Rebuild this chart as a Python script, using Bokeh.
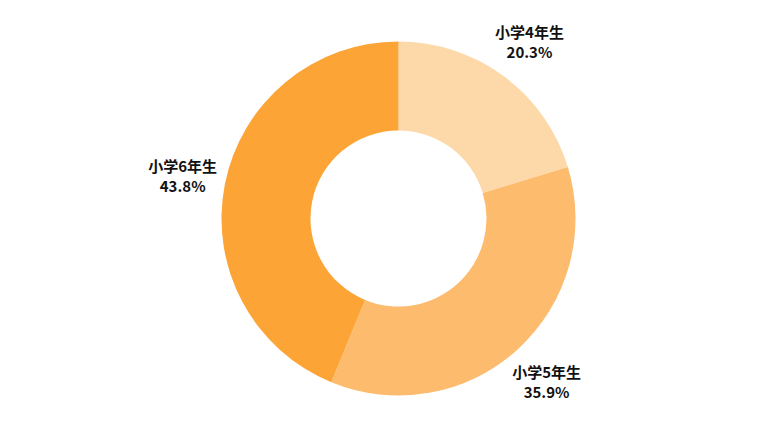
import numpy as np
from bokeh.plotting import figure
from bokeh.models import ColumnDataSource
from bokeh.core.properties import value
from bokeh.embed import file_html
from bokeh.resources import INLINE

categories = ["小学4年生", "小学5年生", "小学6年生"]
shares = [20.3, 35.9, 43.8]
colors = ["#FDD9A9", "#FDBB6E", "#FCA435"]

W, H = 764, 422
cx, cy = 398, 204
r_out, r_in, r_lab = 177, 88, 220

vals = np.array(shares)
frac = vals / vals.sum()
cum = np.concatenate([[0], np.cumsum(frac)])
start = np.pi / 2 - 2 * np.pi * cum[:-1]
end = np.pi / 2 - 2 * np.pi * cum[1:]
mid = (start + end) / 2

src = ColumnDataSource(dict(
    cat=categories,
    pct=[f"{v:.1f}%" for v in shares],
    start=start, end=end,
    color=colors,
    lx=cx + r_lab * np.cos(mid),
    ly=cy + r_lab * np.sin(mid),
))

p = figure(width=W, height=H, x_range=(0, W), y_range=(0, H),
           output_backend="svg", toolbar_location=None, min_border=0)
p.axis.visible = False
p.grid.visible = False
p.outline_line_color = None
p.background_fill_color = "white"

p.annular_wedge(x=cx, y=cy, inner_radius=r_in, outer_radius=r_out,
                start_angle="end", end_angle="start", direction="anticlock",
                fill_color="color", line_color=None, source=src)

font = value("Noto Sans CJK JP")
p.text(x="lx", y="ly", text="cat", source=src, text_font=font,
       text_font_size="15px", text_font_style="bold", text_color="#111111",
       text_align="center", text_baseline="middle", y_offset=-10)
p.text(x="lx", y="ly", text="pct", source=src, text_font=font,
       text_font_size="15px", text_font_style="bold", text_color="#111111",
       text_align="center", text_baseline="middle", y_offset=10)

open("out.html", "w").write(file_html(p, INLINE))
